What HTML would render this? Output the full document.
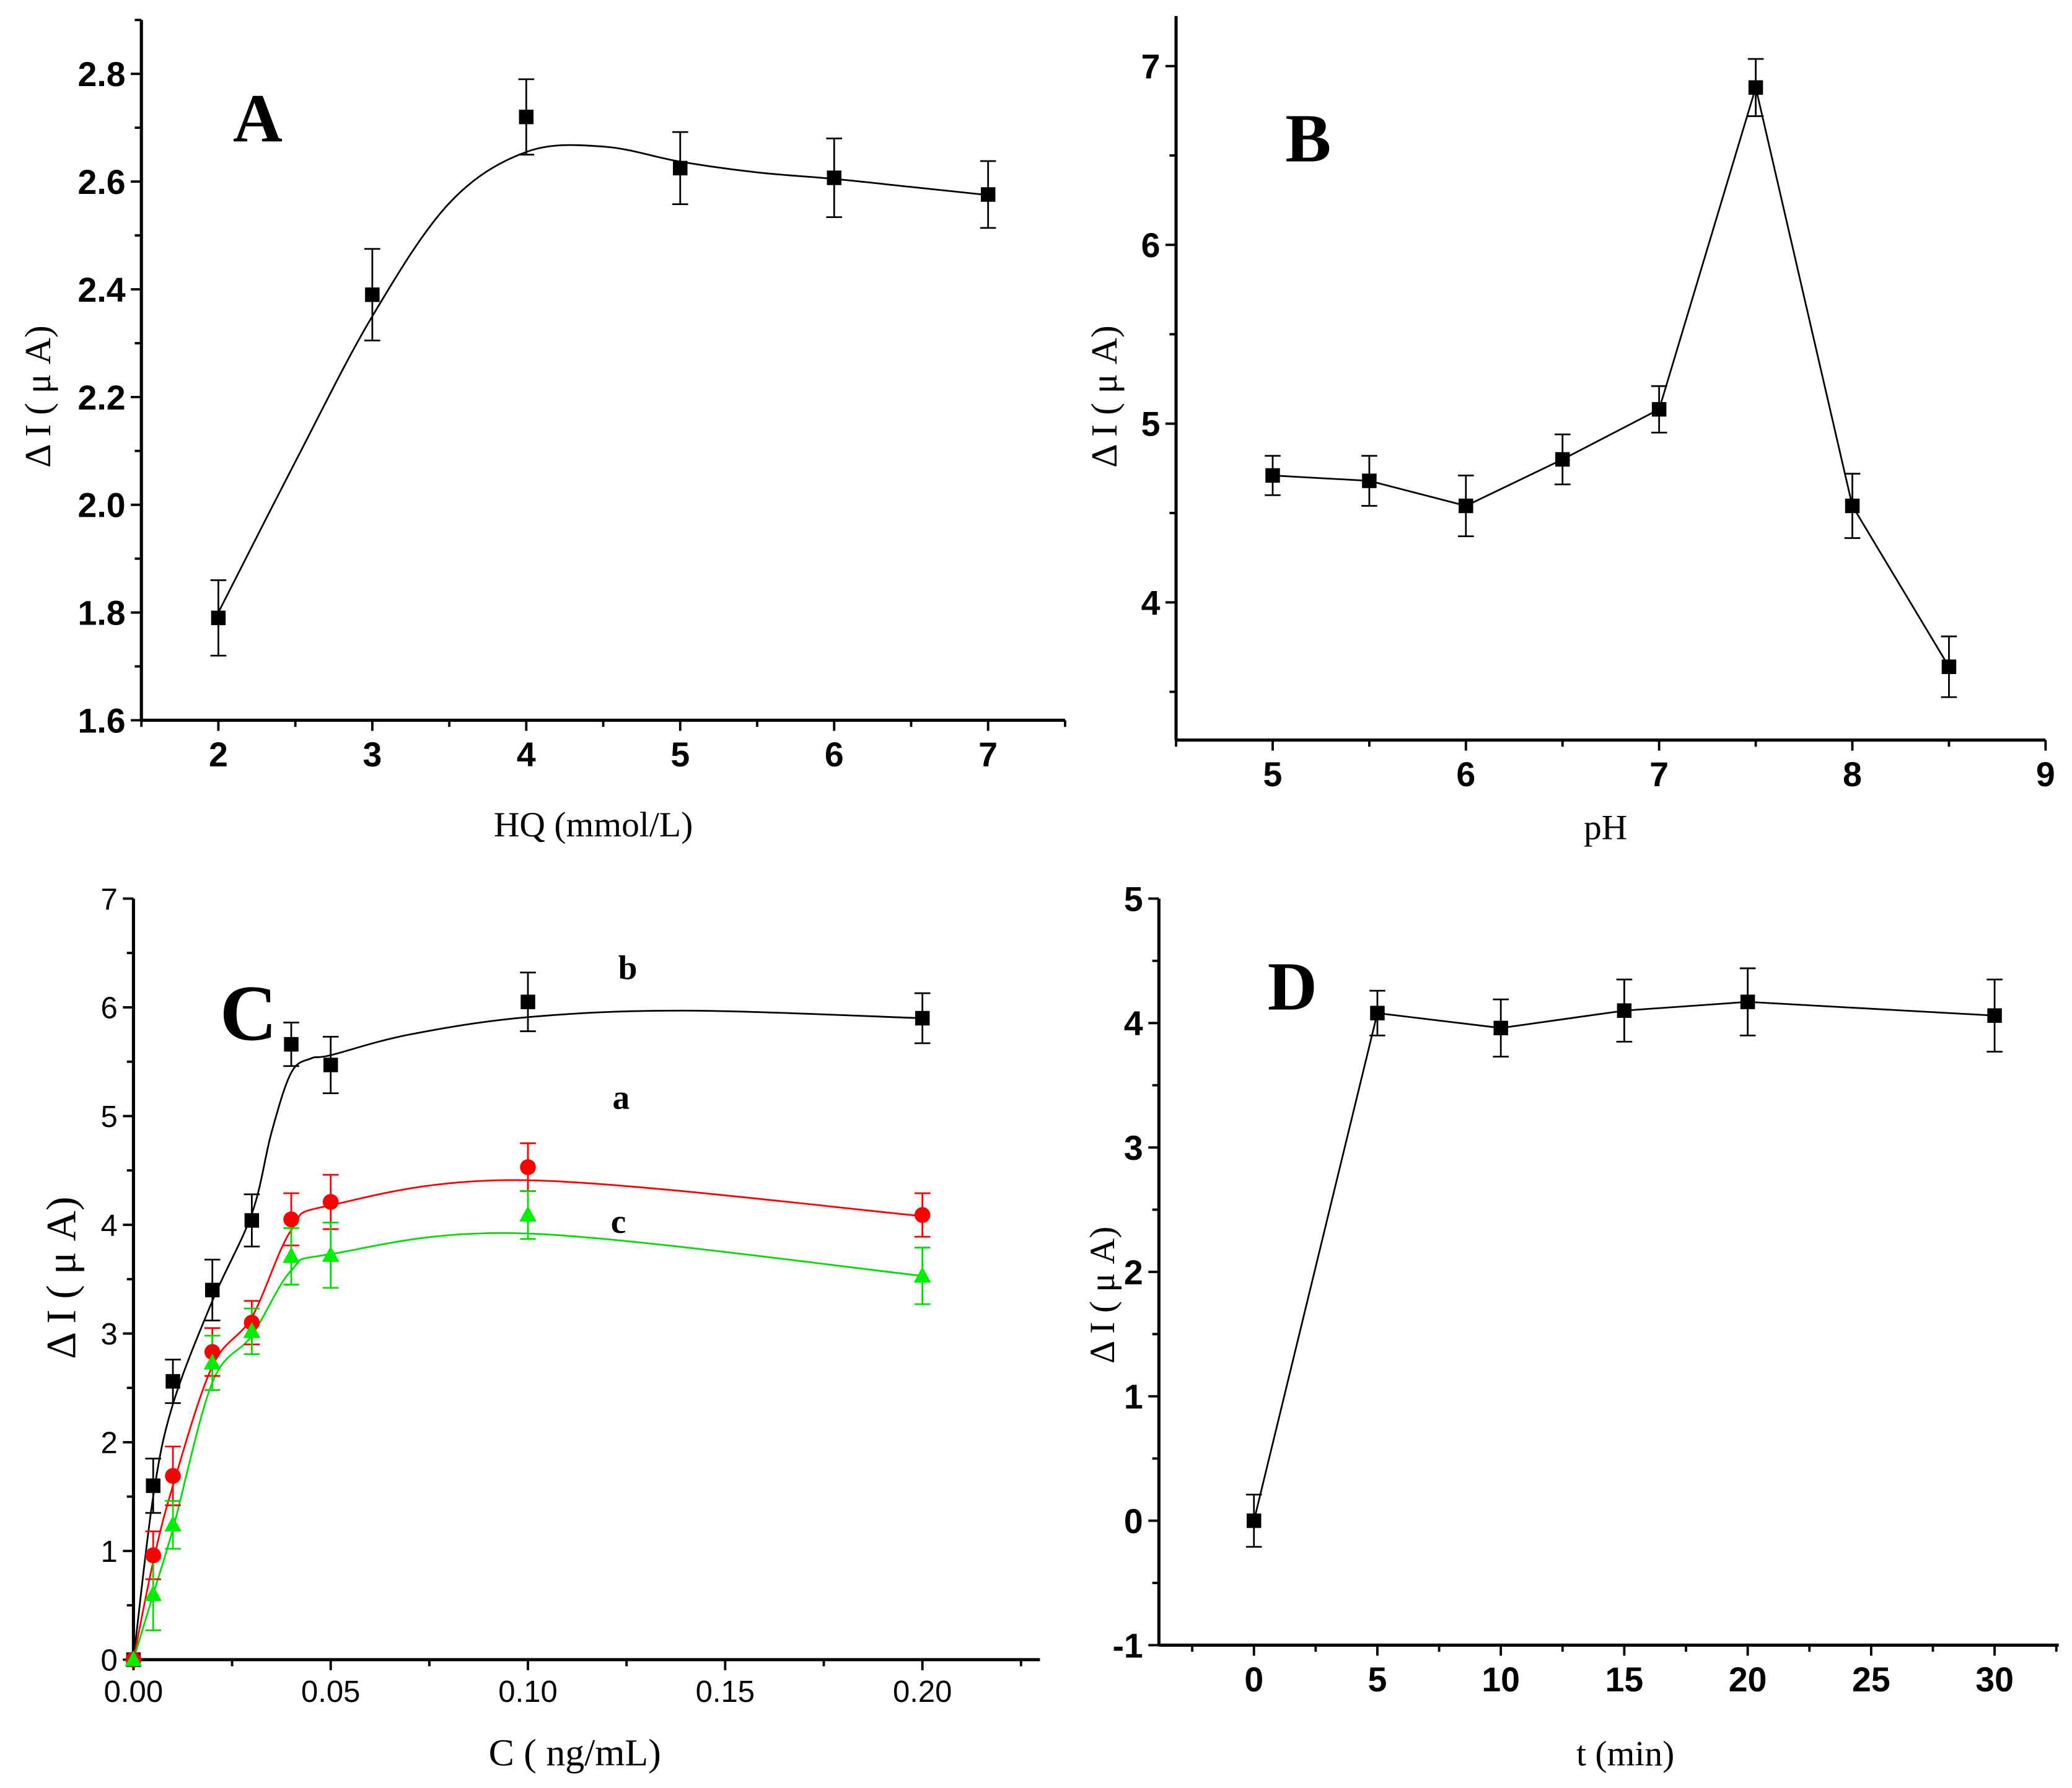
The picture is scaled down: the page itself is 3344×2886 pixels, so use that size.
<!DOCTYPE html>
<html><head><meta charset="utf-8"><style>
html,body{margin:0;padding:0;background:#fff;}
svg{display:block;}
</style></head><body>
<svg id="fig" xmlns="http://www.w3.org/2000/svg" width="3344" height="2886" viewBox="0 0 1568 1353"></svg>
<script>
// Panel A data
const aX=[2,3,4,5,6,7];
const aY=[1.79,2.39,2.72,2.625,2.607,2.576];
const aErr=[0.07,0.085,0.07,0.067,0.073,0.062];
const aFitX=[2,2.5,3,3.5,4,4.5,5,5.5,6,6.5,7];
const aFitY=[1.80,2.08,2.35,2.56,2.655,2.665,2.637,2.617,2.605,2.59,2.575];
const aXTicks=["2","3","4","5","6","7"];
const aYTicks=["1.6","1.8","2.0","2.2","2.4","2.6","2.8"];
// Panel B data
const bX=[5,5.5,6,6.5,7,7.5,8,8.5];
const bY=[4.71,4.68,4.54,4.80,5.08,6.88,4.54,3.64];
const bErr=[0.11,0.14,0.17,0.14,0.13,0.16,0.18,0.17];
const bXTicks=["5","6","7","8","9"];
const bYTicks=["4","5","6","7"];
// Panel C data
const cX=[0,0.005,0.01,0.02,0.03,0.04,0.05,0.1,0.2];
const cYb=[0,1.6,2.56,3.4,4.04,5.66,5.47,6.05,5.9];
const cEb=[0,0.25,0.2,0.28,0.24,0.2,0.26,0.27,0.23];
const cYa=[0,0.96,1.69,2.83,3.1,4.05,4.21,4.53,4.09];
const cEa=[0,0.22,0.27,0.22,0.2,0.24,0.25,0.22,0.2];
const cYc=[0,0.6,1.24,2.73,3.02,3.71,3.72,4.09,3.53];
const cEc=[0,0.33,0.22,0.25,0.21,0.26,0.3,0.22,0.26];
const cFitBX=[0,0.005,0.01,0.02,0.03,0.035,0.04,0.045,0.05,0.07,0.1,0.14,0.2];
const cFitBY=[0,1.5,2.35,3.3,4.1,4.85,5.4,5.53,5.56,5.75,5.91,5.97,5.9];
const cFitAX=[0,0.005,0.01,0.02,0.03,0.04,0.05,0.1,0.2];
const cFitAY=[0,0.9,1.6,2.7,3.15,3.95,4.18,4.41,4.08];
const cFitCX=[0,0.005,0.01,0.02,0.03,0.04,0.05,0.1,0.2];
const cFitCY=[0,0.6,1.2,2.55,2.98,3.58,3.73,3.92,3.53];
const cXTicks=["0.00","0.05","0.10","0.15","0.20"];
const cYTicks=["0","1","2","3","4","5","6","7"];
// Panel D data
const dX=[0,5,10,15,20,30];
const dY=[0,4.08,3.96,4.1,4.17,4.06];
const dErr=[0.21,0.18,0.23,0.25,0.27,0.29];
const dXTicks=["0","5","10","15","20","25","30"];
const dYTicks=["-1","0","1","2","3","4","5"];

const NS="http://www.w3.org/2000/svg";
const svg=document.getElementById('fig');
function mk(tag,attrs,parent,name){const e=document.createElementNS(NS,tag);for(const k in attrs)e.setAttribute(k,attrs[k]);


(parent||svg).appendChild(e);return e;}
function axes(p){
  const sx=v=>p.px0+(v-p.x0)/(p.x1-p.x0)*(p.px1-p.px0);
  const sy=v=>p.py0-(v-p.y0)/(p.y1-p.y0)*(p.py0-p.py1);
  return {sx,sy};
}
const TF='"Liberation Sans Narrow", "Liberation Sans", sans-serif';
function drawAxes(p,s,g){
  mk('line',{x1:p.px0,y1:p.py0,x2:p.px0,y2:p.py1,stroke:'#000','stroke-width':2.4},g,'y-axis');
  mk('line',{x1:p.px0,y1:p.py0,x2:p.px1,y2:p.py0,stroke:'#000','stroke-width':2.4},g,'x-axis');
  for(let v=p.xminor0;v<=p.x1+1e-9;v+=p.xminor){const X=s.sx(v);const major=Math.abs(Math.round((v-p.xmaj0)/p.xmaj)*p.xmaj-(v-p.xmaj0))<1e-9;
    mk('line',{x1:X,y1:p.py0,x2:X,y2:p.py0+(major?8:5),stroke:'#000','stroke-width':1.8},g,'x-tick');}
  for(let v=p.yminor0;v<=p.y1+1e-9;v+=p.yminor){const Y=s.sy(v);const major=Math.abs(Math.round((v-p.ymaj0)/p.ymaj)*p.ymaj-(v-p.ymaj0))<1e-9;
    mk('line',{x1:p.px0,y1:Y,x2:p.px0-(major?8:5),y2:Y,stroke:'#000','stroke-width':1.8},g,'y-tick');}
  p.xt.forEach((t,i)=>{const v=p.xmaj0+i*p.xmaj;const e=mk('text',{x:s.sx(v),y:p.py0+p.tfs+9,'text-anchor':'middle','font-family':TF,'font-size':p.tfs,'font-weight':p.tbold?'bold':'normal'},g,'x-tick-label');e.textContent=t;});
  p.yt.forEach((t,i)=>{const v=p.ymaj0+i*p.ymaj;const e=mk('text',{x:p.px0-12,y:s.sy(v)+p.tfs*0.36,'text-anchor':'end','font-family':TF,'font-size':p.tfs,'font-weight':p.tbold?'bold':'normal'},g,'y-tick-label');e.textContent=t;});
}
function crPath(xs,ys,s){
  const P=xs.map((x,i)=>[s.sx(x),s.sy(ys[i])]);let d='M'+P[0][0]+','+P[0][1];
  for(let i=0;i<P.length-1;i++){const p0=P[i-1]||P[i],p1=P[i],p2=P[i+1],p3=P[i+2]||P[i+1];
    d+=' C'+(p1[0]+(p2[0]-p0[0])/6)+','+(p1[1]+(p2[1]-p0[1])/6)+' '+(p2[0]-(p3[0]-p1[0])/6)+','+(p2[1]-(p3[1]-p1[1])/6)+' '+p2[0]+','+p2[1];}
  return d;}
function linePath(xs,ys,s){return xs.map((x,i)=>(i?'L':'M')+s.sx(x)+','+s.sy(ys[i])).join(' ');}
function errs(xs,ys,es,s,g,col){xs.forEach((x,i)=>{if(!es[i])return;const X=s.sx(x),t=s.sy(ys[i]+es[i]),b=s.sy(ys[i]-es[i]);
  mk('line',{x1:X,y1:t,x2:X,y2:b,stroke:col,'stroke-width':1.3},g,'error-bar');
  mk('line',{x1:X-6,y1:t,x2:X+6,y2:t,stroke:col,'stroke-width':1.3},g,'error-cap');
  mk('line',{x1:X-6,y1:b,x2:X+6,y2:b,stroke:col,'stroke-width':1.3},g,'error-cap');});}
function marks(xs,ys,s,g,type,col){xs.forEach((x,i)=>{const X=s.sx(x),Y=s.sy(ys[i]);
  if(type==='sq')mk('rect',{x:X-5.5,y:Y-5.5,width:11,height:11,fill:col},g,'point');
  else if(type==='ci')mk('circle',{cx:X,cy:Y,r:6,fill:col},g,'point');
  else mk('polygon',{points:(X)+','+(Y-7)+' '+(X-6.5)+','+(Y+5)+' '+(X+6.5)+','+(Y+5),fill:col},g,'point');});}
function txt(g,x,y,t,fs,opts,name){const e=mk('text',Object.assign({x:x,y:y,'font-family':'Liberation Serif, serif','font-size':fs},opts||{}),g,name);e.textContent=t;return e;}
function ytitle(g,x,y,fs){txt(g,x,y,'Δ I ( μ A)',fs,{'text-anchor':'middle',transform:'rotate(-90 '+x+' '+y+')'},'y-axis-title');}

// Panel A
{const g=mk('g',{},svg,'panel-a');
const p={x0:1.5,x1:7.5,y0:1.6,y1:2.9,px0:107,px1:806,py0:545,py1:15,xmaj0:2,xmaj:1,xminor0:1.5,xminor:0.5,ymaj0:1.6,ymaj:0.2,yminor0:1.6,yminor:0.1,xt:aXTicks,yt:aYTicks,tfs:26,tbold:true};
const s=axes(p);drawAxes(p,s,g);
mk('path',{d:crPath(aFitX,aFitY,s),fill:'none',stroke:'#000','stroke-width':1.3},g,'fit-curve');
errs(aX,aY,aErr,s,g,'#000');marks(aX,aY,s,g,'sq','#000');
txt(g,195,107,'A',52,{'font-weight':'bold','text-anchor':'middle'},'panel-label');
txt(g,449,633,'HQ (mmol/L)',27,{'text-anchor':'middle'},'x-axis-title');ytitle(g,38,300,28);}
// Panel B
{const g=mk('g',{},svg,'panel-b');
const p={x0:4.5,x1:9,y0:3.23,y1:7.28,px0:890,px1:1548,py0:560,py1:12,xmaj0:5,xmaj:1,xminor0:4.5,xminor:0.5,ymaj0:4,ymaj:1,yminor0:3.5,yminor:0.5,xt:bXTicks,yt:bYTicks,tfs:26,tbold:true};
const s=axes(p);drawAxes(p,s,g);
mk('path',{d:linePath(bX,bY,s),fill:'none',stroke:'#000','stroke-width':1.3},g,'data-line');
errs(bX,bY,bErr,s,g,'#000');marks(bX,bY,s,g,'sq','#000');
txt(g,990,122,'B',52,{'font-weight':'bold','text-anchor':'middle'},'panel-label');
txt(g,1215,635,'pH',27,{'text-anchor':'middle'},'x-axis-title');ytitle(g,845,300,28);}
// Panel C
{const g=mk('g',{},svg,'panel-c');
const p={x0:0,x1:0.2298,y0:0,y1:7,px0:101,px1:787,py0:1256,py1:680,xmaj0:0,xmaj:0.05,xminor0:0,xminor:0.025,ymaj0:0,ymaj:1,yminor0:0,yminor:0.5,xt:cXTicks,yt:cYTicks,tfs:23,tbold:false};
const s=axes(p);drawAxes(p,s,g);
mk('path',{d:crPath(cFitBX,cFitBY,s),fill:'none',stroke:'#000','stroke-width':1.3},g,'fit-curve-b');
mk('path',{d:crPath(cFitAX,cFitAY,s),fill:'none',stroke:'#ff0000','stroke-width':1.3},g,'fit-curve-a');
mk('path',{d:crPath(cFitCX,cFitCY,s),fill:'none',stroke:'#00dd00','stroke-width':1.3},g,'fit-curve-c');
errs(cX,cYb,cEb,s,g,'#000');errs(cX,cYa,cEa,s,g,'#ff0000');errs(cX,cYc,cEc,s,g,'#00dd00');
marks(cX,cYb,s,g,'sq','#000');marks(cX,cYa,s,g,'ci','#ff0000');marks(cX,cYc,s,g,'tr','#00ee00');
txt(g,475,741,'b',26,{'font-weight':'bold','text-anchor':'middle'},'series-label-b');
txt(g,470,839,'a',26,{'font-weight':'bold','text-anchor':'middle'},'series-label-a');
txt(g,468,933,'c',26,{'font-weight':'bold','text-anchor':'middle'},'series-label-c');
txt(g,188,787,'C',60,{'font-weight':'bold','text-anchor':'middle'},'panel-label');
txt(g,435,1336,'C (  ng/mL)',29,{'text-anchor':'middle'},'x-axis-title');ytitle(g,57,967,32);}
// Panel D
{const g=mk('g',{},svg,'panel-d');
const p={x0:-3.85,x1:32.6,y0:-1,y1:5,px0:877,px1:1558,py0:1245,py1:680,xmaj0:0,xmaj:5,xminor0:-2.5,xminor:2.5,ymaj0:-1,ymaj:1,yminor0:-1,yminor:0.5,xt:dXTicks,yt:dYTicks,tfs:26,tbold:true};
const s=axes(p);drawAxes(p,s,g);
mk('path',{d:linePath(dX,dY,s),fill:'none',stroke:'#000','stroke-width':1.3},g,'data-line');
errs(dX,dY,dErr,s,g,'#000');marks(dX,dY,s,g,'sq','#000');
txt(g,978,764,'D',52,{'font-weight':'bold','text-anchor':'middle'},'panel-label');
txt(g,1230,1336,'t (min)',27,{'text-anchor':'middle'},'x-axis-title');ytitle(g,843,980,27);}
</script>
</body></html>
